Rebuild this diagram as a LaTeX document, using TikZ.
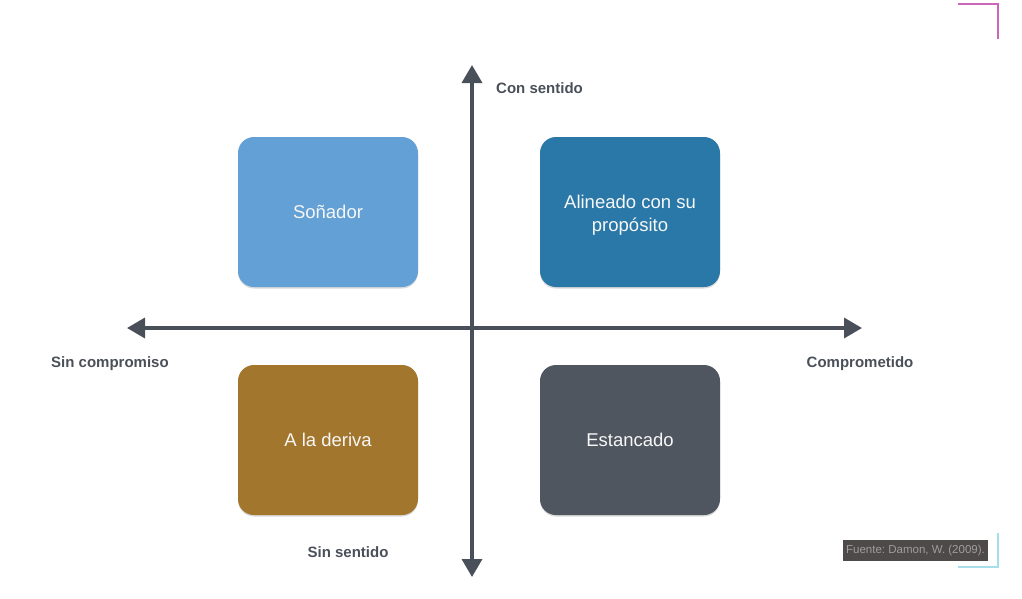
\documentclass[tikz,border=0pt]{standalone}
\usepackage{fontspec}
\setmainfont{Liberation Sans}
\usepackage{tikz}
\usetikzlibrary{arrows.meta,shadows}
\definecolor{dreamcol}{HTML}{62A0D5}
\definecolor{aligncol}{HTML}{2A78A8}
\definecolor{driftcol}{HTML}{A2762C}
\definecolor{stuckcol}{HTML}{4F5660}
\definecolor{axiscol}{HTML}{4A5059}
\definecolor{srccol}{HTML}{4D4A49}
\definecolor{pinkmark}{HTML}{CC66BB}
\definecolor{cyanmark}{HTML}{A8DDEA}

\begin{document}
\begin{tikzpicture}[x=1pt, y=-1pt,
	every node/.style={inner sep=0pt},
	quadrant/.style={rectangle, rounded corners=16pt, minimum width=180pt, minimum height=150pt, text=white!94!gray, font=\fontsize{18.5}{23}\selectfont, align=center, drop shadow={shadow xshift=0pt, shadow yshift=-1.5pt, opacity=0.3}},
	axislabel/.style={text=axiscol, font=\fontsize{15}{18}\selectfont\bfseries},
	axis/.style={draw=axiscol, line width=3.5pt, {Triangle[length=18pt,width=20pt]}-{Triangle[length=18pt,width=20pt]}}]
				\useasboundingbox (0,0) rectangle (1022,598);
				
				\coordinate (top) at (472,65);
				\coordinate (bottom) at (472,577);
				\coordinate (left) at (127,328);
				\coordinate (right) at (862,328);
				
				\node[quadrant, fill=dreamcol] (dream) at (328,212){Soñador};
				\node[quadrant, fill=aligncol] (align) at (630,212){\raisebox{0pt}[\dimexpr\height+6pt][\depth]{\begin{tabular}{@{}c@{}}Alineado con su\\propósito\end{tabular}}};
				\node[quadrant, fill=driftcol] (drift) at (328,440){A la deriva};
				\node[quadrant, fill=stuckcol] (stuck) at (630,440){Estancado};
				
				\path (bottom) edge[axis] (top);
				\path (left) edge[axis] (right);
				
				\node[axislabel, anchor=west] (with) at (496,88){Con sentido};
				\node[axislabel] (without) at (348,552){Sin sentido};
				\node[axislabel] (uncommitted) at (110,364){Sin compromiso};
				\node[axislabel] (committed) at (860,364){Comprometido};
				
				\node[fill=srccol, text=white!62!black, font=\fontsize{11.5}{13}\selectfont\frenchspacing, minimum width=145pt, minimum height=21pt] (source) at (915.5,550.5){Fuente: Damon, W. (2009).};
				
				\draw[pinkmark, line width=1.2pt] (958,4) -- (998,4) -- (998,39);
				\draw[cyanmark, line width=1.2pt] (998,533) -- (998,567) -- (958,567);
				\end{tikzpicture}
\end{document}
